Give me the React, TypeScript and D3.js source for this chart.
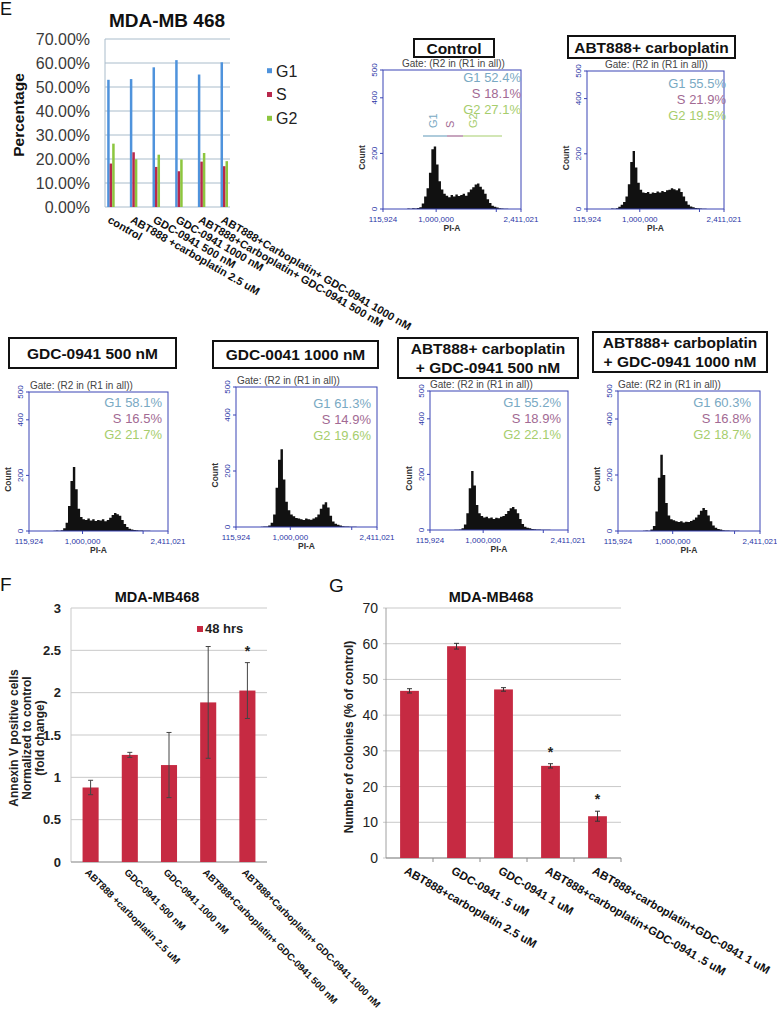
import React from "react";
import * as d3 from "d3";

const FONT = "'Liberation Sans', Arial, Helvetica, sans-serif";

// ---------- Panel E : cell-cycle summary ----------
const cycleCategories = [
  "control",
  "ABT888 +carboplatin 2.5 uM",
  "GDC-0941 500 nM",
  "GDC-0941 1000 nM",
  "ABT888+Carboplatin+ GDC-0941 500 nM",
  "ABT888+Carboplatin+ GDC-0941 1000 nM",
];
const g1Values = [53.0, 53.3, 58.2, 61.2, 55.2, 60.3];
const sValues = [18.1, 22.8, 16.7, 14.9, 18.9, 17.0];
const g2Values = [26.4, 19.9, 21.8, 19.8, 22.5, 19.1];
const cycleTicks = [0, 10, 20, 30, 40, 50, 60, 70];
const cycleSeries = ["G1", "S", "G2"];

// ---------- Flow histograms ----------
const histBinStart = 520000;
const histBinStep = 40000;
const histXTicks = [1000000, 2000000];
const histYTicks = [0, 200, 400, 500];
const histTitles = [
  ["Control"],
  ["ABT888+ carboplatin"],
  ["GDC-0941 500 nM"],
  ["GDC-0041 1000 nM"],
  ["ABT888+ carboplatin", "+ GDC-0941 500 nM"],
  ["ABT888+ carboplatin", "+ GDC-0941 1000 nM"],
];
const histG1 = ["52.4%", "55.5%", "58.1%", "61.3%", "55.2%", "60.3%"];
const histS = ["18.1%", "21.9%", "16.5%", "14.9%", "18.9%", "16.8%"];
const histG2 = ["27.1%", "19.5%", "21.7%", "19.6%", "22.1%", "18.7%"];
const histControl = [2, 1, 3, 2, 4, 6, 20, 45, 75, 130, 215, 225, 160, 100, 70, 55, 48, 42, 50, 45, 52, 47, 50, 55, 48, 60, 70, 78, 88, 92, 80, 70, 55, 35, 22, 12, 8, 5, 3, 2, 1, 1];
const histAbt = [2, 1, 3, 8, 15, 25, 45, 90, 170, 210, 150, 95, 70, 60, 58, 62, 55, 60, 58, 63, 60, 65, 62, 68, 70, 75, 72, 68, 74, 62, 45, 28, 15, 9, 6, 4, 3, 2, 1, 1, 0, 0];
const histGdc500 = [1, 2, 1, 3, 10, 30, 90, 180, 230, 150, 80, 50, 42, 40, 45, 38, 42, 36, 40, 38, 42, 35, 40, 48, 58, 65, 60, 55, 40, 25, 14, 8, 5, 4, 3, 2, 2, 1, 1, 1, 0, 0];
const histGdc1000 = [1, 2, 2, 5, 15, 45, 140, 240, 278, 170, 90, 60, 45, 38, 32, 30, 28, 25, 30, 28, 26, 30, 35, 45, 65, 80, 88, 70, 40, 20, 12, 8, 5, 3, 2, 2, 1, 1, 1, 0, 0, 0];
const histAbtGdc500 = [1, 1, 2, 6, 20, 60, 150, 212, 160, 90, 60, 50, 45, 48, 42, 45, 40, 44, 42, 48, 50, 58, 68, 78, 83, 75, 60, 40, 22, 12, 8, 6, 4, 3, 2, 2, 1, 1, 1, 1, 0, 0];
const histAbtGdc1000 = [1, 2, 1, 5, 18, 70, 190, 272, 200, 100, 55, 42, 38, 35, 32, 35, 30, 33, 32, 36, 40, 48, 58, 72, 82, 75, 55, 35, 20, 12, 7, 5, 3, 2, 2, 1, 1, 1, 1, 0, 0, 0];
const histCounts = [histControl, histAbt, histGdc500, histGdc1000, histAbtGdc500, histAbtGdc1000];

// ---------- Panel F : Annexin V ----------
const annexinCategories = [
  "ABT888 +carboplatin 2.5 uM",
  "GDC-0941 500 nM",
  "GDC-0941 1000 nM",
  "ABT888+Carboplatin+ GDC-0941 500 nM",
  "ABT888+Carboplatin+ GDC-0941 1000 nM",
];
const annexinValues = [0.88, 1.265, 1.145, 1.885, 2.025];
const annexinErrors = [0.085, 0.03, 0.385, 0.66, 0.33];
const annexinSig = [false, false, false, false, true];
const annexinTicks = [0, 0.5, 1, 1.5, 2, 2.5, 3];

// ---------- Panel G : colonies ----------
const colonyCategories = [
  "ABT888+carboplatin 2.5 uM",
  "GDC-0941 .5 uM",
  "GDC-0941 1 uM",
  "ABT888+carboplatin+GDC-0941 .5 uM",
  "ABT888+carboplatin+GDC-0941 1 uM",
];
const colonyValues = [46.8, 59.3, 47.2, 25.8, 11.7];
const colonyErrors = [0.6, 0.8, 0.5, 0.6, 1.4];
const colonySig = [false, false, false, true, true];
const colonyTicks = [0, 10, 20, 30, 40, 50, 60, 70];

// ---------- styles / layout ----------
const SERIES_COLORS = ["#4f93dc", "#b8284c", "#8dc63f"];
const BAR_RED = "#c62a42";
const FRAME_BLUE = "#3b45b5";
const TICK_BLUE = "#2b36a6";
const PCT_COLORS = ["#79a9c3", "#a26a93", "#a6cd6c"];

const histLayouts = [
  { left: 383, top: 70, w: 138, h: 139, box: [414, 39, 80, 18], gateDx: 19, pctY: 77, pctInset: 0, gates: true },
  { left: 587, top: 71, w: 137, h: 138, box: [568, 36, 167, 22], gateDx: 18, pctY: 83, pctInset: -2, gates: false },
  { left: 29, top: 392, w: 139, h: 139, box: [9, 338, 167, 30], gateDx: 1, pctY: 402, pctInset: 6, gates: false },
  { left: 236, top: 387, w: 141, h: 140, box: [213, 341, 165, 27], gateDx: 1, pctY: 403, pctInset: 6, gates: false },
  { left: 430, top: 391, w: 138, h: 139, box: [398, 338, 180, 40], gateDx: 0, pctY: 402, pctInset: 7, gates: false },
  { left: 618, top: 391, w: 142, h: 140, box: [593, 332, 174, 40], gateDx: 0, pctY: 402, pctInset: 9, gates: false },
];

function CycleChart() {
  const y = d3.scaleLinear().domain([0, 70]).range([207, 39]);
  const x = d3.scaleBand<string>().domain(cycleCategories).range([99.7, 235.7]);
  const vals = [g1Values, sValues, g2Values];
  const bw = 2.5;
  return (
    <g>
      <text x={0} y={15} fontSize={18} fill="#111">E</text>
      <text x={167} y={27} fontSize={19} fontWeight="bold" textAnchor="middle" fill="#111">MDA-MB 468</text>
      {cycleTicks.map((t) => (
        <g key={t}>
          <line x1={105} x2={230} y1={y(t)} y2={y(t)} stroke="#a9bccb" strokeWidth={1} />
          <text x={90} y={y(t) + 5.5} fontSize={16} textAnchor="end" fill="#3a3a3a">{t.toFixed(2) + "%"}</text>
        </g>
      ))}
      <line x1={105} x2={105} y1={y(70)} y2={y(0)} stroke="#a9bccb" />
      {cycleCategories.map((c, i) => {
        const cx = (x(c) as number) + x.bandwidth() / 2;
        return (
          <g key={c}>
            {vals.map((arr, k) => (
              <rect key={k} x={cx + (k - 1) * bw - bw / 2 - 0.1} width={bw} y={y(arr[i])} height={y(0) - y(arr[i])} fill={SERIES_COLORS[k]} />
            ))}
            <text transform={`translate(${cx - 4},${222}) rotate(30)`} fontSize={11} fontWeight="bold" fill="#111">{c}</text>
          </g>
        );
      })}
      <text transform="translate(23.5,115) rotate(-90)" fontSize={15.5} fontWeight="bold" textAnchor="middle" fill="#111">Percentage</text>
      {cycleSeries.map((s, k) => (
        <g key={s}>
          <rect x={267} y={68.2 + k * 23.8} width={5} height={5} fill={SERIES_COLORS[k]} />
          <text x={276} y={76.5 + k * 23.8} fontSize={16} fill="#222">{s}</text>
        </g>
      ))}
    </g>
  );
}

function Histogram({ idx }: { idx: number }) {
  const L = histLayouts[idx];
  const counts = histCounts[idx];
  const x = d3.scaleLinear().domain([115924, 2411021]).range([L.left, L.left + L.w]);
  const y = d3.scaleLinear().domain([0, 500]).range([L.top + L.h, L.top]);
  const pts = counts.map((c, i) => ({ v: histBinStart + i * histBinStep, c }));
  pts.push({ v: histBinStart + counts.length * histBinStep, c: 0 });
  const area = d3
    .area<{ v: number; c: number }>()
    .x((d) => x(d.v))
    .y0(y(0))
    .y1((d) => y(d.c))
    .curve(d3.curveStepAfter);
  const [bx, by, bw, bh] = L.box;
  const title = histTitles[idx];
  const bottom = L.top + L.h;
  const right = L.left + L.w;
  return (
    <g>
      <rect x={bx} y={by} width={bw} height={bh} fill="#fff" stroke="#111" strokeWidth={2} />
      {title.map((t, j) => (
        <text key={j} x={bx + bw / 2} y={title.length === 1 ? by + bh / 2 + 5.5 : by + 16 + j * 18.5} fontSize={15.5} fontWeight="bold" textAnchor="middle" fill="#111">{t}</text>
      ))}
      <text x={L.left + L.gateDx} y={L.top - 3} fontSize={10} fill="#444">Gate: (R2 in (R1 in all))</text>
      <path d={area(pts) || ""} fill="#111" />
      <rect x={L.left} y={L.top} width={L.w} height={L.h} fill="none" stroke={FRAME_BLUE} strokeWidth={1} />
      {histYTicks.map((t) => (
        <g key={t}>
          <line x1={L.left - 3} x2={L.left} y1={y(t)} y2={y(t)} stroke={FRAME_BLUE} />
          <text transform={`translate(${L.left - 6},${y(t)}) rotate(-90)`} fontSize={8} textAnchor="middle" fill={TICK_BLUE}>{t}</text>
        </g>
      ))}
      {histXTicks.map((t) => (
        <line key={t} x1={x(t)} x2={x(t)} y1={bottom} y2={bottom + 3} stroke={FRAME_BLUE} />
      ))}
      <line x1={L.left} x2={L.left} y1={bottom} y2={bottom + 3} stroke={FRAME_BLUE} />
      <line x1={right} x2={right} y1={bottom} y2={bottom + 3} stroke={FRAME_BLUE} />
      <text x={L.left} y={bottom + 13} fontSize={8} textAnchor="middle" fill={TICK_BLUE}>115,924</text>
      <text x={x(1000000)} y={bottom + 13} fontSize={8} textAnchor="middle" fill={TICK_BLUE}>1,000,000</text>
      <text x={right} y={bottom + 13} fontSize={8} textAnchor="middle" fill={TICK_BLUE}>2,411,021</text>
      <text x={L.left + L.w / 2} y={bottom + 22} fontSize={8.5} fontWeight="bold" textAnchor="middle" fill="#333">PI-A</text>
      <text transform={`translate(${L.left - 18},${L.top + L.h * 0.63}) rotate(-90)`} fontSize={8.5} fontWeight="bold" textAnchor="middle" fill="#333">Count</text>
      {[histG1[idx], histS[idx], histG2[idx]].map((p, k) => (
        <text key={k} x={right - L.pctInset} y={L.pctY + 4.5 + k * 16} fontSize={13} textAnchor="end" fill={PCT_COLORS[k]}>
          {cycleSeries[k] + " " + p}
        </text>
      ))}
      {L.gates && (
        <g>
          <line x1={423} x2={447} y1={136} y2={136} stroke={PCT_COLORS[0]} strokeWidth={1.2} />
          <line x1={447} x2={463} y1={136} y2={136} stroke={PCT_COLORS[1]} strokeWidth={1.2} />
          <line x1={463} x2={502} y1={136} y2={136} stroke={PCT_COLORS[2]} strokeWidth={1.2} />
          {cycleSeries.map((s, k) => (
            <text key={s} transform={`translate(${[437, 454, 477][k]},128) rotate(-90)`} fontSize={11} fill={PCT_COLORS[k]}>{s}</text>
          ))}
        </g>
      )}
    </g>
  );
}

function AnnexinChart() {
  const y = d3.scaleLinear().domain([0, 3]).range([862, 608]);
  const x = d3.scaleBand<string>().domain(annexinCategories).range([71, 267]).paddingInner(0.59).paddingOuter(0.295);
  const lines = ["Annexin V positive cells", "Normalized to control", "(fold change)"];
  return (
    <g>
      <text x={0} y={591} fontSize={19} fill="#111">F</text>
      <text x={157} y={602} fontSize={14.5} fontWeight="bold" textAnchor="middle" fill="#111">MDA-MB468</text>
      {annexinTicks.map((t) => (
        <g key={t}>
          <line x1={71} x2={267} y1={y(t)} y2={y(t)} stroke="#c9c9c9" />
          <text x={61} y={y(t) + 4.5} fontSize={13} fontWeight="bold" textAnchor="end" fill="#222">{t}</text>
        </g>
      ))}
      <line x1={71} x2={71} y1={y(3)} y2={y(0)} stroke="#c9c9c9" />
      <line x1={71} x2={267} y1={y(0)} y2={y(0)} stroke="#9a9a9a" />
      {annexinCategories.map((c, i) => {
        const bx = x(c) as number;
        const cx = bx + x.bandwidth() / 2;
        const v = annexinValues[i];
        const e = annexinErrors[i];
        return (
          <g key={c}>
            <rect x={bx} y={y(v)} width={x.bandwidth()} height={y(0) - y(v)} fill={BAR_RED} />
            <line x1={cx} x2={cx} y1={y(v + e)} y2={y(v - e)} stroke="#444" />
            <line x1={cx - 2.5} x2={cx + 2.5} y1={y(v + e)} y2={y(v + e)} stroke="#444" />
            <line x1={cx - 2.5} x2={cx + 2.5} y1={y(v - e)} y2={y(v - e)} stroke="#444" />
            {annexinSig[i] && (
              <text x={cx} y={y(v + e) - 7} fontSize={14} fontWeight="bold" textAnchor="middle" fill="#222">*</text>
            )}
            <text transform={`translate(${cx - 6},873) rotate(45)`} fontSize={9.7} fontWeight="bold" fill="#111">{c}</text>
          </g>
        );
      })}
      <rect x={197} y={626} width={6} height={6} fill={BAR_RED} />
      <text x={205} y={633} fontSize={13} fontWeight="bold" fill="#222">48 hrs</text>
      {lines.map((l, j) => (
        <text key={j} transform={`translate(${17.5 + j * 13},738) rotate(-90)`} fontSize={12} fontWeight="bold" textAnchor="middle" fill="#222">{l}</text>
      ))}
    </g>
  );
}

function ColonyChart() {
  const y = d3.scaleLinear().domain([0, 70]).range([858, 608]);
  const x = d3.scaleBand<string>().domain(colonyCategories).range([386, 621]).paddingInner(0.6).paddingOuter(0.3);
  const step = x.step();
  return (
    <g>
      <text x={329} y={592} fontSize={19} fill="#111">G</text>
      <text x={491} y={602} fontSize={14.5} fontWeight="bold" textAnchor="middle" fill="#111">MDA-MB468</text>
      {colonyTicks.map((t) => (
        <g key={t}>
          <line x1={383} x2={621} y1={y(t)} y2={y(t)} stroke="#c9c9c9" />
          <text x={378} y={y(t) + 5} fontSize={14} textAnchor="end" fill="#222">{t}</text>
        </g>
      ))}
      <line x1={386} x2={386} y1={y(70)} y2={y(0)} stroke="#a0a0a0" />
      <line x1={386} x2={621} y1={y(0)} y2={y(0)} stroke="#8a8a8a" />
      {colonyCategories.map((c, i) => (
        <line key={"t" + i} x1={386 + step * (i + 1)} x2={386 + step * (i + 1)} y1={y(0)} y2={y(0) + 4} stroke="#8a8a8a" />
      ))}
      {colonyCategories.map((c, i) => {
        const bx = x(c) as number;
        const cx = bx + x.bandwidth() / 2;
        const v = colonyValues[i];
        const e = colonyErrors[i];
        return (
          <g key={c}>
            <rect x={bx} y={y(v)} width={x.bandwidth()} height={y(0) - y(v)} fill={BAR_RED} />
            <line x1={cx} x2={cx} y1={y(v + e)} y2={y(v - e)} stroke="#333" />
            <line x1={cx - 2.5} x2={cx + 2.5} y1={y(v + e)} y2={y(v + e)} stroke="#333" />
            <line x1={cx - 2.5} x2={cx + 2.5} y1={y(v - e)} y2={y(v - e)} stroke="#333" />
            {colonySig[i] && (
              <text x={cx} y={y(v + e) - 7} fontSize={14} fontWeight="bold" textAnchor="middle" fill="#222">*</text>
            )}
            <text transform={`translate(${cx - 6},873) rotate(30)`} fontSize={11.5} fontWeight="bold" fill="#111">{c}</text>
          </g>
        );
      })}
      <text transform="translate(352.5,737) rotate(-90)" fontSize={12} fontWeight="bold" textAnchor="middle" fill="#222">Number of colonies (% of control)</text>
    </g>
  );
}

export default function App() {
  return (
    <div style={{ position: "absolute", left: 0, top: 0 }}>
      <svg width={777} height={1013} style={{ display: "block" }} fontFamily={FONT}>
        <rect width={777} height={1013} fill="#fff" />
        <CycleChart />
        {histLayouts.map((_, i) => (
          <Histogram key={i} idx={i} />
        ))}
        <AnnexinChart />
        <ColonyChart />
      </svg>
    </div>
  );
}
